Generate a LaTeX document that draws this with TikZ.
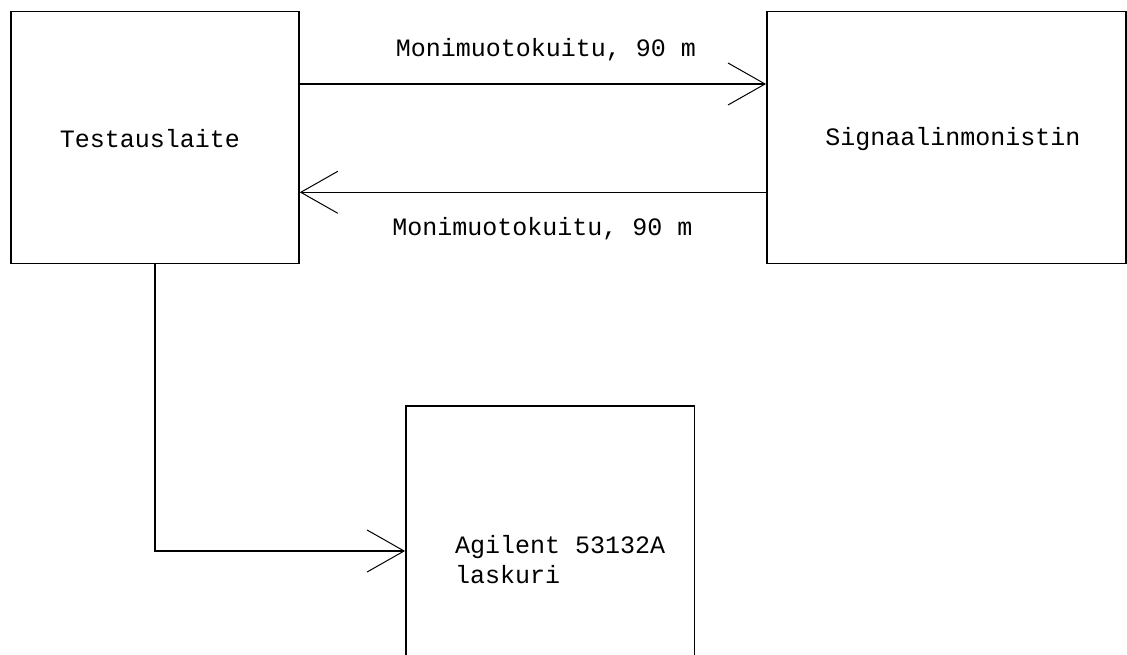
\documentclass[tikz,border=0pt]{standalone}
\usepackage{fontspec}
\setmainfont{Liberation Mono}
\usetikzlibrary{arrows.meta}

\tikzset{
  box/.style={draw, line width=1.5pt, rectangle, inner sep=0pt},
  lbl/.style={inner sep=0pt, font=\fontsize{25}{30}\selectfont},
  link/.style={line width=1.5pt, -{Straight Barb[length=37pt, width=42pt, line width=1pt]}},
  wire/.style={line width=1.5pt}
}

\begin{document}
\begin{tikzpicture}[x=1pt, y=-1pt]
  \useasboundingbox (0,0) rectangle (1127,655);
  \clip (0,0) rectangle (1127,655);
  \fill[white] (0,0) rectangle (1127,655);

  % blocks
  \node[box, minimum width=288.3pt, minimum height=252pt] (test) at (154.9,137.3) {};
  \node[box, minimum width=359.2pt, minimum height=252pt] (sig)  at (946.4,137.3) {};
  \node[box, minimum width=288.7pt, minimum height=290.2pt] (agi) at (550.2,551) {};

  % block texts
  \node[lbl, anchor=base] (testtxt) at (150,148) {Testauslaite};
  \node[lbl, anchor=base] (sigtxt)  at (953,146) {Signaalinmonistin};
  \node[lbl, anchor=base west] (agitxt) at (455,553)
    {\begin{tabular}[t]{@{}l@{}}Agilent 53132A\\laskuri\end{tabular}};

  % fibre links between the tester and the splitter
  \coordinate (upper) at (0,84);
  \coordinate (lower) at (0,192.3);
  \draw[link] (test.east |- upper) -- (sig.west |- upper);
  \draw[link] (sig.west |- lower) -- (test.east |- lower);
  \node[lbl, anchor=base] (uptxt)  at (546,57)    {Monimuotokuitu, 90 m};
  \node[lbl, anchor=base] (lowtxt) at (542.5,236) {Monimuotokuitu, 90 m};

  % tester output to the counter
  \draw[link] (test.south) |- (agi.west);
\end{tikzpicture}
\end{document}
